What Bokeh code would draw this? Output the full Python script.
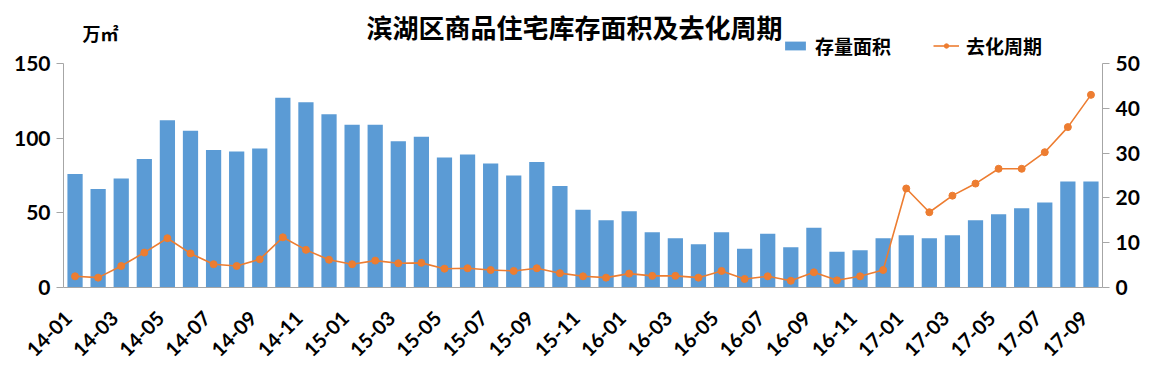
import math
from bokeh.plotting import figure
from bokeh.models import (Range1d, LinearAxis, FixedTicker, Label, Legend,
                          LegendItem, ColumnDataSource)
from bokeh.embed import file_html
from bokeh.resources import INLINE

title_text = "滨湖区商品住宅库存面积及去化周期"
left_unit = "万㎡"
right_unit = "月"
bar_name = "存量面积"
line_name = "去化周期"

months = ["14-01", "14-02", "14-03", "14-04", "14-05", "14-06", "14-07", "14-08",
          "14-09", "14-10", "14-11", "14-12",
          "15-01", "15-02", "15-03", "15-04", "15-05", "15-06", "15-07", "15-08",
          "15-09", "15-10", "15-11", "15-12",
          "16-01", "16-02", "16-03", "16-04", "16-05", "16-06", "16-07", "16-08",
          "16-09", "16-10", "16-11", "16-12",
          "17-01", "17-02", "17-03", "17-04", "17-05", "17-06", "17-07", "17-08",
          "17-09"]

stock = [76, 66, 73, 86, 112, 105, 92, 91, 93, 127, 124, 116,
         109, 109, 98, 101, 87, 89, 83, 75, 84, 68, 52, 45,
         51, 37, 33, 29, 37, 26, 36, 27, 40, 24, 25, 33,
         35, 33, 35, 45, 49, 53, 57, 71, 71]

cycle = [2.5, 2.2, 4.8, 7.8, 11.0, 7.6, 5.2, 4.8, 6.3, 11.2, 8.4, 6.2,
         5.2, 6.0, 5.4, 5.5, 4.2, 4.3, 3.9, 3.7, 4.3, 3.2, 2.5, 2.2,
         3.1, 2.6, 2.6, 2.2, 3.7, 1.9, 2.5, 1.5, 3.4, 1.6, 2.5, 3.9,
         22.1, 16.8, 20.5, 23.2, 26.5, 26.5, 30.2, 35.8, 43.0]

left_max = 150
right_max = 50
left_ticks = [0, 50, 100, 150]
right_ticks = [0, 10, 20, 30, 40, 50]

BLUE = "#5B9BD5"
ORANGE = "#ED7D31"
AXIS = "#A6A6A6"
NUM_FONT = "Lato"
CJK_FONT = "Noto Sans CJK SC"

W, H = 1151, 385
B_LEFT, B_RIGHT, B_BOTTOM = 63, 49, 98
FRAME_H = H - B_BOTTOM          # frame reaches the top edge (room for title/legend)
AXIS_PX = 224                   # pixel height of the 0..150 axis
scale = FRAME_H / AXIS_PX

idx = list(range(len(months)))
src = ColumnDataSource(dict(x=idx, month=months, stock=stock, cycle=cycle))

p = figure(width=W, height=H, output_backend="svg", toolbar_location=None,
           x_range=Range1d(-0.5, len(months) - 0.5),
           y_range=Range1d(0, left_max * scale),
           min_border_left=B_LEFT, min_border_right=B_RIGHT, min_border_top=0,
           min_border_bottom=B_BOTTOM, title=None)
p.outline_line_color = None
p.grid.visible = False
p.background_fill_color = "white"
p.border_fill_color = "white"

p.extra_y_ranges = {"right": Range1d(0, right_max * scale)}

bars = p.vbar(x="x", top="stock", width=0.66, source=src, fill_color=BLUE,
              line_color=None)
ln = p.line(x="x", y="cycle", source=src, line_color=ORANGE, line_width=1.6,
            y_range_name="right")
pts = p.scatter(x="x", y="cycle", source=src, size=7, fill_color=ORANGE,
                line_color=ORANGE, y_range_name="right")

# x axis (labels every other month)
shift = -0.3
xa = p.xaxis[0]
xa.ticker = FixedTicker(ticks=[i + shift for i in idx[::2]])
xa.major_label_overrides = {i + shift: months[i] for i in idx[::2]}
xa.major_label_orientation = math.pi / 4
xa.major_tick_line_color = None
xa.minor_tick_line_color = None
xa.axis_line_color = AXIS
xa.major_label_text_font = NUM_FONT
xa.major_label_text_font_style = "bold"
xa.major_label_text_font_size = "20px"
xa.major_label_text_color = "black"
xa.major_label_standoff = 21

# left axis
ya = p.yaxis[0]
ya.ticker = FixedTicker(ticks=left_ticks)
ya.bounds = (0, left_max)
ya.minor_tick_line_color = None
ya.major_tick_in = 0
ya.major_tick_out = 7
ya.major_tick_line_color = AXIS
ya.axis_line_color = AXIS
ya.major_label_text_font = NUM_FONT
ya.major_label_text_font_style = "bold"
ya.major_label_text_font_size = "21px"
ya.major_label_text_color = "black"
ya.major_label_standoff = 6

# right axis
ra = LinearAxis(y_range_name="right", ticker=FixedTicker(ticks=right_ticks),
                bounds=(0, right_max))
ra.minor_tick_line_color = None
ra.major_tick_in = 0
ra.major_tick_out = 7
ra.major_tick_line_color = AXIS
ra.axis_line_color = AXIS
ra.major_label_text_font = NUM_FONT
ra.major_label_text_font_style = "bold"
ra.major_label_text_font_size = "21px"
ra.major_label_text_color = "black"
ra.major_label_standoff = 6
p.add_layout(ra, "right")

# title & units (screen units relative to the frame's bottom-left)
p.add_layout(Label(x=511, y=261, x_units="screen", y_units="screen", text=title_text,
                   text_font=CJK_FONT, text_font_style="bold", text_font_size="26px",
                   text_align="center", text_baseline="middle", text_color="black"))
p.add_layout(Label(x=19, y=255, x_units="screen", y_units="screen", text=left_unit,
                   text_font=CJK_FONT, text_font_style="bold", text_font_size="18px",
                   text_align="left", text_baseline="middle", text_color="black"))
p.add_layout(Label(x=1045, y=251, x_units="screen", y_units="screen", text=right_unit,
                   text_font=CJK_FONT, text_font_style="bold", text_font_size="18px",
                   text_align="left", text_baseline="middle", text_color="black"))

legend = Legend(items=[LegendItem(label=bar_name, renderers=[bars]),
                       LegendItem(label=line_name, renderers=[ln, pts])],
                location=(719, 228), orientation="horizontal",
                glyph_width=26, glyph_height=11, label_standoff=7, spacing=42,
                padding=0, margin=0, border_line_color=None,
                background_fill_alpha=0,
                label_text_font=CJK_FONT, label_text_font_style="bold",
                label_text_font_size="19px", label_text_color="black")
p.add_layout(legend, "center")

open("out.html", "w").write(file_html(p, INLINE))
